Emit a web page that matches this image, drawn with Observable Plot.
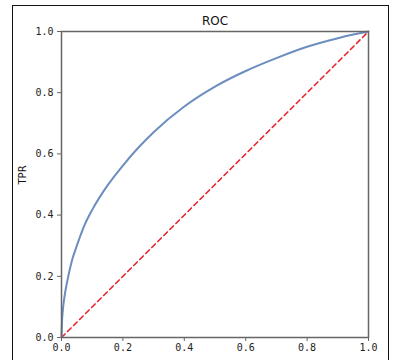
<!DOCTYPE html>
<html>
<head>
<meta charset="utf-8">
<script src="https://cdn.jsdelivr.net/npm/d3@7"></script>
<script src="https://cdn.jsdelivr.net/npm/@observablehq/plot@0.6"></script>
<style>
  html, body { margin: 0; padding: 0; background: #fff; }
  #wrap { position: relative; width: 403px; height: 360px; overflow: hidden; }
  #border { position: absolute; left: 12px; top: 5px; width: 377px; height: 400px; border: 1.5px solid #111; box-sizing: border-box; }
  #chart { position: absolute; left: 0; top: 0; }
</style>
</head>
<body>
<div id="wrap"><div id="border"></div><div id="chart"></div></div>
<script>
const fpr = [0, 0.002, 0.005, 0.01, 0.02, 0.035, 0.05, 0.075, 0.1, 0.15, 0.2, 0.25, 0.3, 0.4, 0.5, 0.6, 0.7, 0.8, 0.9, 0.95, 1.0];
const tpr = [0, 0.058, 0.095, 0.135, 0.19, 0.255, 0.30, 0.367, 0.417, 0.497, 0.562, 0.62, 0.671, 0.755, 0.82, 0.871, 0.913, 0.95, 0.978, 0.99, 1.0];
const diagX = [0, 1];
const diagY = [0, 1];
const ticks = [0, 0.2, 0.4, 0.6, 0.8, 1.0];
const title = "ROC";
const yLabel = "TPR";

const roc = fpr.map((x, i) => ({x, y: tpr[i]}));
const diag = diagX.map((x, i) => ({x, y: diagY[i]}));

const chart = Plot.plot({
  width: 403, height: 360,
  marginLeft: 61, marginRight: 35, marginTop: 31, marginBottom: 23,
  style: {fontFamily: "DejaVu Sans Mono", fontSize: "10px", color: "#222", background: "transparent"},
  x: {domain: [0, 1], ticks, tickFormat: d3.format(".1f"), label: null, tickSize: 4, tickPadding: 2},
  y: {domain: [0, 1], ticks, tickFormat: d3.format(".1f"), label: null, tickSize: 4, tickPadding: 4},
  marks: [
    Plot.line(diag, {x: "x", y: "y", stroke: "#e8212b", strokeWidth: 1.6, strokeDasharray: "5,3.5"}),
    Plot.line(roc, {x: "x", y: "y", stroke: "#6c8dbf", strokeWidth: 2, curve: "monotone-x"}),
    Plot.frame({stroke: "#666", strokeWidth: 1.5}),
    Plot.text([title], {frameAnchor: "top", lineAnchor: "middle", dy: -10, fontFamily: "DejaVu Sans", fontSize: 12, fill: "#111"}),
    Plot.text([yLabel], {frameAnchor: "left", dx: -39, rotate: -90, fontFamily: "DejaVu Sans", fontSize: 10, fill: "#111"})
  ]
});
chart.querySelectorAll("[aria-label$='tick']").forEach(g => g.setAttribute("stroke", "#666"));
document.getElementById("chart").appendChild(chart);
</script>
</body>
</html>
